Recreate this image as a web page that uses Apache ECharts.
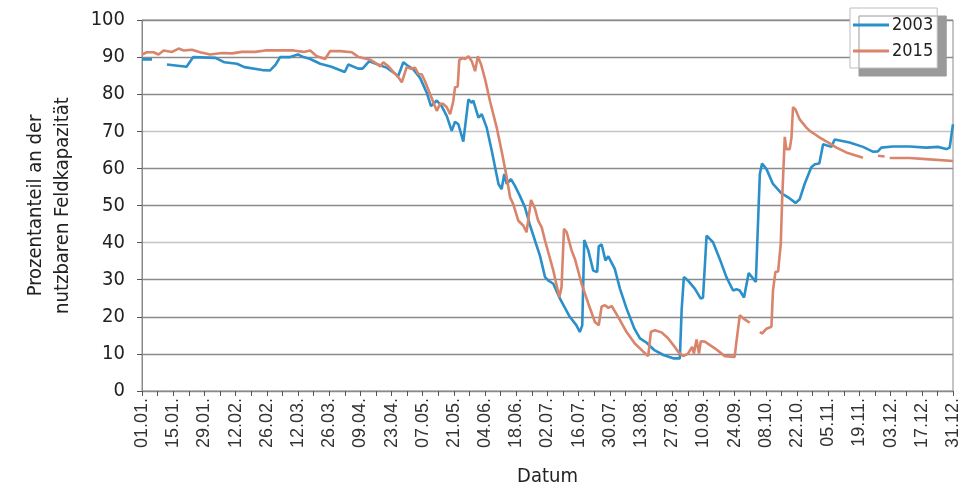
<!DOCTYPE html>
<html>
<head>
<meta charset="utf-8">
<script src="https://cdn.jsdelivr.net/npm/echarts@6/dist/echarts.min.js"></script>
<style>
  html, body { margin: 0; padding: 0; background: #fff; }
  #chart { width: 968px; height: 492px; }
</style>
</head>
<body>
<div id="chart"></div>
<script>
// day of year (0 = 01.01.) and value in %, null = no measurement
var days2003 = [0, 4.5, 5, 11.2, 20, 23, 33, 37, 42.6, 46, 54, 57.5, 60, 62, 66.5, 70, 72.5, 75.5, 80, 85, 91, 92.6, 97, 99, 102, 105, 110, 113.6, 115, 117.3, 119, 121.8, 124.8, 127.8, 129.7, 132.3, 134.5, 136.8, 139, 140.5, 142, 144.2, 146.5, 148, 148.7, 151, 152.5, 154.7, 157, 160, 161.4, 162.6, 163.7, 165.6, 167.4, 169.6, 171.9, 174, 176.4, 178.6, 180.9, 182.3, 184.6, 187.6, 192, 195, 196.5, 197.6, 198.5, 200.3, 202.5, 204.3, 205, 206.3, 208, 209.3, 212.2, 214.5, 217.5, 221, 223.5, 226.5, 230, 234, 238.4, 241.4, 242.2, 243.2, 245, 248.1, 250.8, 251.8, 253.4, 256.3, 259.3, 262.3, 265.3, 266.8, 268.3, 270.2, 272.3, 274.3, 275.5, 277.3, 278.3, 280.3, 283.2, 287, 290, 293.3, 295.2, 297.4, 300.4, 302, 304, 305.7, 309.4, 310.9, 317.6, 323.6, 328, 330.3, 331.8, 337, 344.5, 352, 357.2, 361, 362.5, 364];
var vals2003 = [89.4, 89.4, null, 88.0, 87.4, 90.0, 89.8, 88.6, 88.2, 87.3, 86.5, 86.4, 88.0, 90.0, 90.0, 90.7, 90.0, 89.5, 88.2, 87.4, 86.0, 88.0, 86.9, 86.9, 88.9, 88.2, 87.1, 85.5, 84.9, 88.6, 87.8, 86.7, 84.4, 80.4, 76.8, 78.3, 76.8, 74.1, 70.1, 72.6, 71.9, 67.2, 78.6, 77.7, 78.3, 73.7, 74.6, 71.0, 64.7, 55.8, 54.4, 58.5, 55.8, 57.1, 55.3, 52.6, 49.5, 45.0, 40.5, 36.5, 30.7, 29.8, 28.9, 24.9, 20.0, 17.7, 15.9, 17.7, 40.7, 37.9, 32.5, 32.1, 39.0, 39.5, 35.2, 36.3, 32.9, 27.6, 22.2, 16.8, 14.2, 13.0, 11.0, 9.7, 8.8, 8.8, 21.8, 30.7, 29.8, 27.6, 24.9, 25.2, 41.9, 40.1, 35.6, 30.7, 27.1, 27.4, 27.1, 25.2, 31.8, 30.3, 29.4, 58.5, 61.3, 59.8, 55.8, 53.3, 52.2, 50.7, 51.7, 55.8, 60.3, 61.1, 61.3, 66.5, 65.8, 67.8, 67.0, 65.8, 64.5, 64.6, 65.6, 65.9, 65.9, 65.6, 65.8, 65.2, 65.6, 71.9];

var days2015 = [0, 2.2, 5.2, 7.4, 9.7, 13.5, 16.4, 18.7, 22.4, 26.1, 30.6, 35.9, 40.4, 44.8, 50.8, 55.3, 68, 72.5, 75.5, 78.5, 82.2, 84.4, 89, 94.2, 97.2, 102.4, 105.4, 106.9, 108.3, 110.6, 112.8, 115, 116.6, 118.8, 120.5, 122.6, 124, 125.6, 127, 130, 132.3, 133.8, 135.2, 136.8, 138.3, 139.7, 140.5, 141.7, 142.4, 143.8, 145, 146.5, 148, 149.5, 150.7, 152.2, 154, 156.2, 159.2, 161.4, 163.7, 165.2, 166.6, 168.9, 171.1, 172.6, 174.6, 176.4, 177.8, 179.4, 180.9, 184.6, 187.3, 188.3, 189.4, 190.6, 192.8, 194.3, 197.3, 200.3, 203.3, 205, 206.3, 207.8, 209.3, 210.8, 213.7, 217.5, 221.2, 225, 227.2, 228.4, 230.2, 233.2, 236.1, 239.1, 240.6, 242.9, 245.1, 246.9, 247.7, 248.9, 250, 250.8, 252.6, 257.1, 261.6, 266, 266.8, 268.3, 270.5, 272.8, 274, 277.3, 278.3, 280.3, 282.5, 283.2, 284.3, 285.5, 286.7, 287.3, 288.5, 289.2, 290.7, 291.5, 292.2, 293.3, 295.2, 298.2, 299.7, 302, 304.2, 307.9, 311.7, 316.1, 323.6, 325, 330.3, 333.3, 334.5, 335.6, 344.5, 352, 364];
var vals2015 = [90.7, 91.3, 91.3, 90.7, 91.8, 91.4, 92.3, 91.8, 92.0, 91.3, 90.7, 91.1, 91.0, 91.4, 91.4, 91.8, 91.8, 91.4, 91.8, 90.2, 89.5, 91.6, 91.6, 91.3, 90.0, 89.3, 88.2, 87.5, 88.6, 87.5, 86.0, 84.6, 83.2, 87.3, 86.9, 87.1, 85.5, 85.3, 83.5, 79.0, 75.5, 77.4, 77.4, 76.5, 74.6, 78.1, 81.9, 82.1, 89.2, 89.8, 89.5, 90.2, 88.9, 86.2, 90.2, 88.0, 84.0, 78.1, 71.0, 64.7, 57.6, 52.2, 50.4, 45.9, 44.6, 42.8, 51.5, 49.1, 45.9, 44.1, 40.5, 32.5, 25.3, 28.0, 43.7, 42.8, 37.9, 35.6, 28.9, 23.6, 18.6, 17.7, 22.8, 23.1, 22.4, 22.9, 20.0, 15.9, 12.8, 10.6, 9.4, 15.9, 16.4, 15.8, 14.2, 11.9, 10.6, 9.4, 10.1, 11.9, 10.1, 13.9, 10.1, 13.4, 13.3, 11.5, 9.4, 9.2, 13.3, 20.4, 19.3, 18.4, null, 15.9, 15.5, 16.8, 17.3, 27.1, 32.1, 32.2, 39.7, 51.3, 68.5, 65.2, 65.2, 68.3, 76.5, 75.9, 73.2, 71.0, 70.1, 69.2, 68.3, 67.0, 65.6, 64.3, 62.9, null, 63.4, 63.2, null, 62.8, 62.8, 62.5, 62.0];

var seriesNames = ['2003', '2015'];
var yTicks = [0, 10, 20, 30, 40, 50, 60, 70, 80, 90, 100];

function pairs(days, vals) {
  return days.map(function (d, i) {
    return [d, vals[i] === null ? '-' : vals[i]];
  });
}

function dayLabel(d) {
  var dt = new Date(2003, 0, 1 + d);
  var dd = ('0' + dt.getDate()).slice(-2);
  var mm = ('0' + (dt.getMonth() + 1)).slice(-2);
  return dd + '.' + mm + '.';
}

var narrow = '"DejaVu Sans Condensed", "Liberation Sans Narrow", sans-serif';

var chart = echarts.init(document.getElementById('chart'), null, { renderer: 'canvas' });
chart.setOption({
  animation: false,
  backgroundColor: '#fff',
  grid: {
    left: 142,
    right: 15,
    top: 20,
    bottom: 99,
    show: true,
    borderColor: '#8a8a8a',
    borderWidth: 1
  },
  legend: {
    data: seriesNames,
    orient: 'vertical',
    left: 850,
    top: 8,
    padding: [6, 4, 6, 3],
    itemGap: 4,
    icon: 'rect',
    itemWidth: 36,
    itemHeight: 3,
    backgroundColor: '#fff',
    borderColor: '#bdbdbd',
    borderWidth: 1,
    shadowColor: '#9a9a9a',
    shadowOffsetX: 9,
    shadowOffsetY: 8,
    shadowBlur: 0,
    textStyle: { fontFamily: narrow, fontSize: 18, color: '#222', lineHeight: 22, padding: [0, 0, 0, -2] }
  },
  xAxis: {
    type: 'value',
    min: 0,
    max: 364,
    interval: 7,
    name: 'Datum',
    nameLocation: 'middle',
    nameGap: 76,
    nameTextStyle: { fontFamily: narrow, fontSize: 20, color: '#222' },
    axisLine: { lineStyle: { color: '#8a8a8a' } },
    axisTick: { show: true, length: 5, lineStyle: { color: '#555' } },
    splitLine: { show: false },
    axisLabel: {
      rotate: 90,
      margin: 7,
      fontFamily: '"Liberation Sans", Arial, sans-serif',
      fontSize: 18,
      color: '#333',
      formatter: function (v) {
        return v % 14 === 0 ? dayLabel(v) : '';
      }
    }
  },
  yAxis: {
    type: 'value',
    min: yTicks[0],
    max: yTicks[yTicks.length - 1],
    interval: 10,
    name: 'Prozentanteil an der\nnutzbaren Feldkapazität',
    nameLocation: 'middle',
    nameGap: 66,
    nameTextStyle: { fontFamily: narrow, fontSize: 20, color: '#222', lineHeight: 27 },
    axisLine: { show: true, lineStyle: { color: '#8a8a8a' } },
    axisTick: { show: true, length: 5, lineStyle: { color: '#555' } },
    axisLabel: { fontFamily: narrow, fontSize: 20, color: '#222', margin: 17 },
    splitLine: {
      lineStyle: {
        color: ['#8a8a8a', '#8a8a8a', '#8a8a8a', '#8a8a8a', '#c4c4c4', '#8a8a8a',
                '#8a8a8a', '#c4c4c4', '#8a8a8a', '#8a8a8a', '#8a8a8a'],
        width: 1.3
      }
    }
  },
  series: [
    {
      name: seriesNames[0],
      type: 'line',
      data: pairs(days2003, vals2003),
      symbol: 'none',
      connectNulls: false,
      color: '#2b8fca',
      lineStyle: { width: 2.6, color: '#2b8fca' }
    },
    {
      name: seriesNames[1],
      type: 'line',
      data: pairs(days2015, vals2015),
      symbol: 'none',
      connectNulls: false,
      color: '#d9846b',
      lineStyle: { width: 2.6, color: '#d9846b' }
    }
  ]
});
</script>
</body>
</html>
